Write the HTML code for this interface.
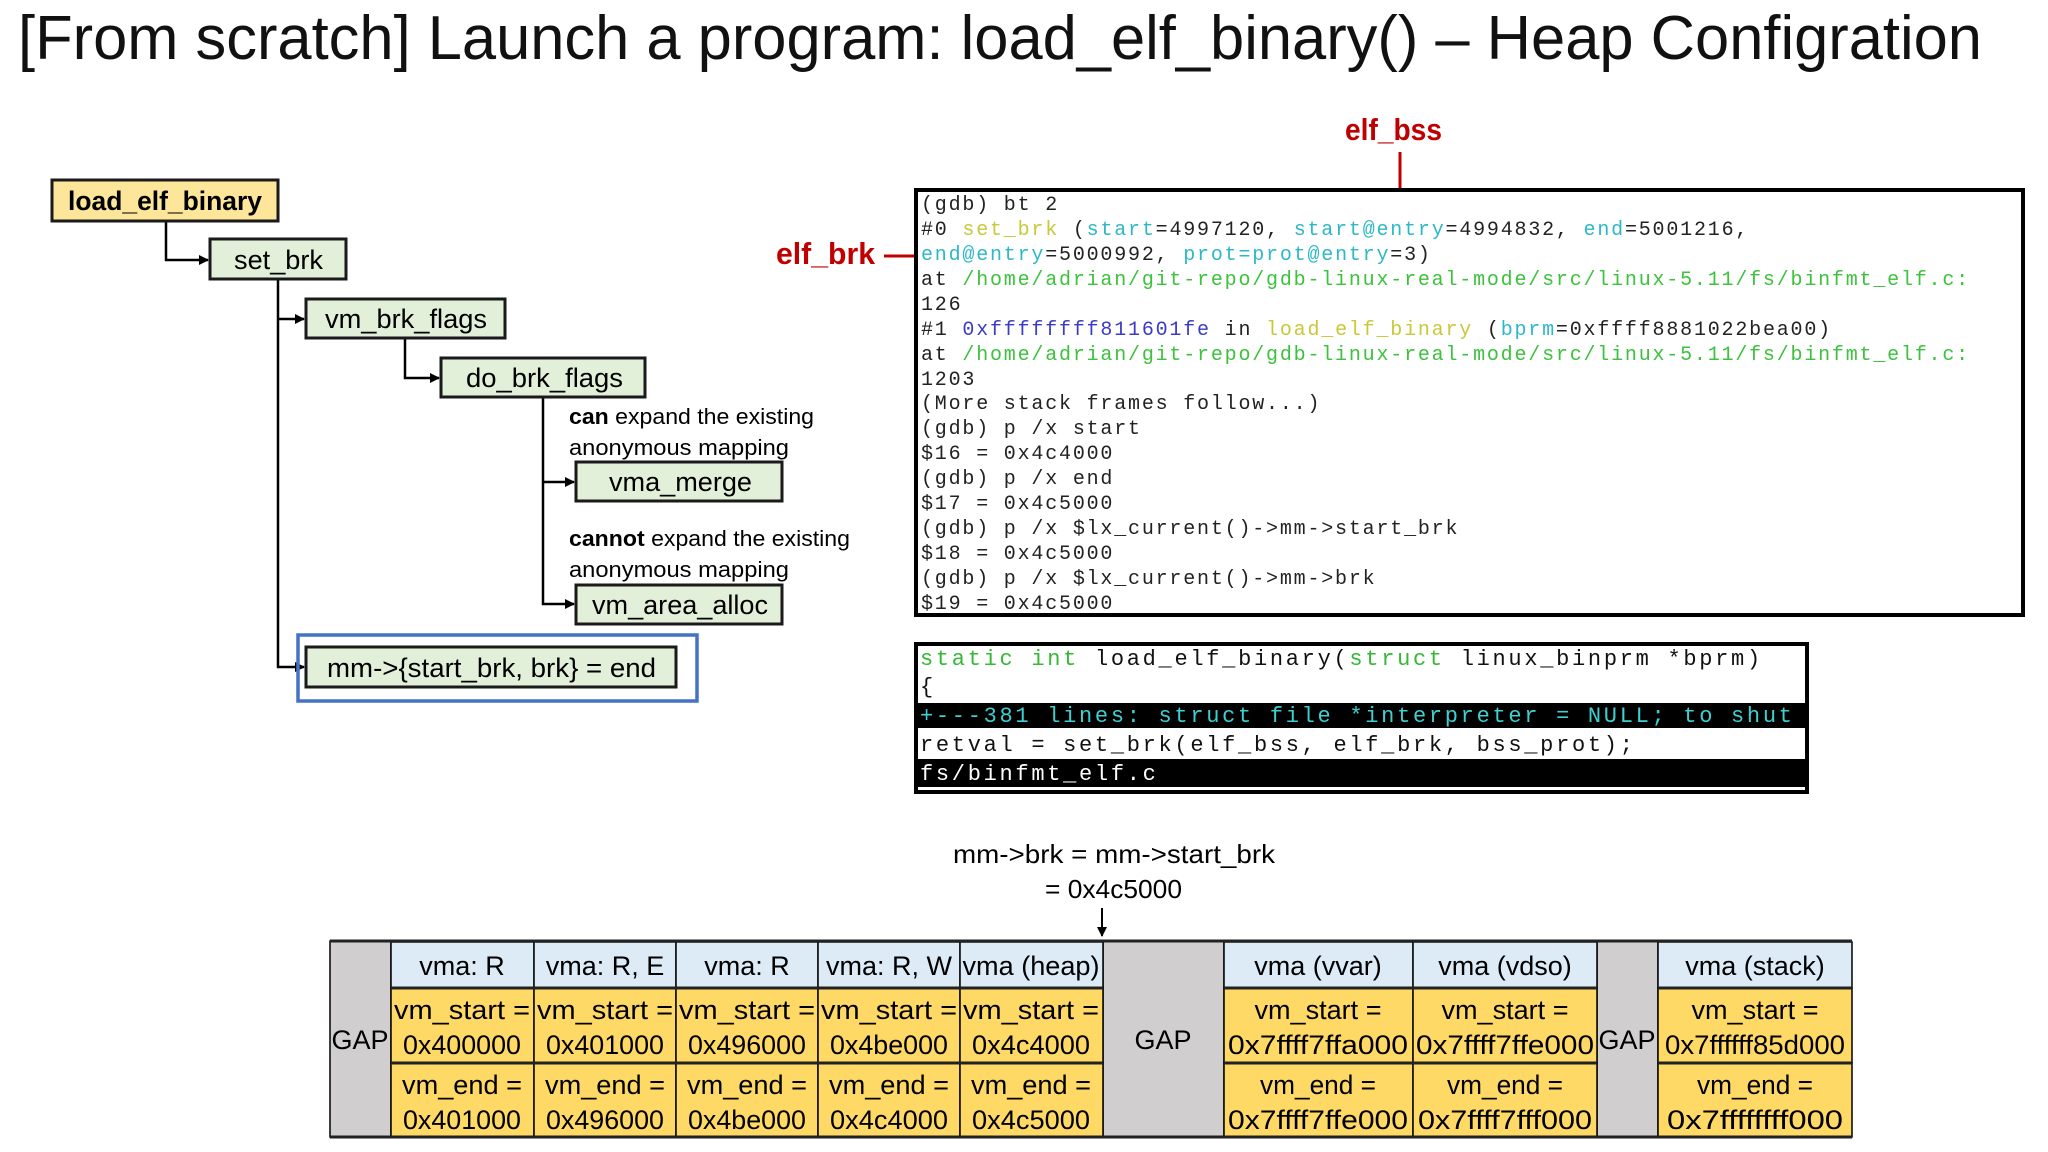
<!DOCTYPE html>
<html><head><meta charset="utf-8"><style>
html,body{margin:0;padding:0;background:#fff;}
svg{display:block;}
.t{font-family:"Liberation Sans",sans-serif;}
.m{font-family:"Liberation Mono",monospace;white-space:pre;}
</style></head><body>
<svg width="2048" height="1152" viewBox="0 0 2048 1152" xmlns="http://www.w3.org/2000/svg">
<defs>
<marker id="ab" markerWidth="10" markerHeight="10" refX="9" refY="5" orient="auto" markerUnits="userSpaceOnUse"><path d="M0,0 L10,5 L0,10 z" fill="#000"/></marker>
<marker id="ar" markerWidth="14" markerHeight="14" refX="13" refY="7" orient="auto" markerUnits="userSpaceOnUse"><path d="M0,0 L14,7 L0,14 z" fill="#c00000"/></marker>
<clipPath id="c1"><rect x="918" y="192" width="1103" height="421"/></clipPath>
<clipPath id="c2"><rect x="918" y="646" width="887" height="144"/></clipPath>
</defs>

<text class="t" x="18" y="59" font-size="62" fill="#111" textLength="1964" lengthAdjust="spacingAndGlyphs">[From scratch] Launch a program: load_elf_binary() – Heap Configration</text>

<!-- tree -->
<g stroke="#000" stroke-width="2.5" fill="none">
<path d="M166,221 V260 H208" marker-end="url(#ab)"/>
<path d="M278,279 V667 H304" marker-end="url(#ab)"/>
<path d="M278,319 H304" marker-end="url(#ab)"/>
<path d="M405,338 V378 H439" marker-end="url(#ab)"/>
<path d="M543,397 V604 H574" marker-end="url(#ab)"/>
<path d="M543,482 H574" marker-end="url(#ab)"/>
</g>
<g stroke="#1a1a1a" stroke-width="3">
<rect x="52" y="180" width="226" height="41" fill="#fde699"/>
<rect x="210" y="239" width="136" height="40" fill="#e2efd9"/>
<rect x="306" y="299" width="199" height="39" fill="#e2efd9"/>
<rect x="441" y="358" width="204" height="39" fill="#e2efd9"/>
<rect x="576" y="462" width="206" height="39" fill="#e2efd9"/>
<rect x="576" y="585" width="206" height="39" fill="#e2efd9"/>
<rect x="306" y="647" width="370" height="40" fill="#e2efd9"/>
</g>
<rect x="298" y="635" width="399" height="66" fill="none" stroke="#4472c4" stroke-width="3.5"/>
<g class="t" font-size="27" fill="#000">
<text x="68" y="210" font-weight="bold" textLength="194" lengthAdjust="spacingAndGlyphs">load_elf_binary</text>
<text x="234" y="269" textLength="89" lengthAdjust="spacingAndGlyphs">set_brk</text>
<text x="325" y="328" textLength="162" lengthAdjust="spacingAndGlyphs">vm_brk_flags</text>
<text x="466" y="387" textLength="157" lengthAdjust="spacingAndGlyphs">do_brk_flags</text>
<text x="609" y="491" textLength="143" lengthAdjust="spacingAndGlyphs">vma_merge</text>
<text x="592" y="614" textLength="176" lengthAdjust="spacingAndGlyphs">vm_area_alloc</text>
<text x="327" y="677" textLength="329" lengthAdjust="spacingAndGlyphs">mm-&gt;{start_brk, brk} = end</text>
</g>
<g class="t" font-size="22" fill="#000">
<text x="569" y="424" textLength="245" lengthAdjust="spacingAndGlyphs"><tspan font-weight="bold">can</tspan> expand the existing</text>
<text x="569" y="455" textLength="220" lengthAdjust="spacingAndGlyphs">anonymous mapping</text>
<text x="569" y="546" textLength="281" lengthAdjust="spacingAndGlyphs"><tspan font-weight="bold">cannot</tspan> expand the existing</text>
<text x="569" y="577" textLength="220" lengthAdjust="spacingAndGlyphs">anonymous mapping</text>
</g>

<!-- red labels -->
<g class="t" font-size="31" font-weight="bold" fill="#c00000">
<text x="1345" y="140" textLength="97" lengthAdjust="spacingAndGlyphs">elf_bss</text>
<text x="776" y="264" textLength="99" lengthAdjust="spacingAndGlyphs">elf_brk</text>
</g>
<path d="M1400,152 V214" stroke="#c00000" stroke-width="3" marker-end="url(#ar)"/>
<path d="M884,256 H962" stroke="#c00000" stroke-width="3" marker-end="url(#ar)"/>

<!-- terminal -->
<rect x="916" y="190" width="1107" height="425" fill="#fff" stroke="#000" stroke-width="4"/>
<g class="m" font-size="20" letter-spacing="1.8" fill="#222" clip-path="url(#c1)">
<text x="921" y="210">(gdb) bt 2</text>
<text x="921" y="235">#0  <tspan fill="#c8c83a">set_brk</tspan> (<tspan fill="#2cb8c8">start</tspan>=4997120, <tspan fill="#2cb8c8">start@entry</tspan>=4994832, <tspan fill="#2cb8c8">end</tspan>=5001216,</text>
<text x="921" y="260">    <tspan fill="#2cb8c8">end@entry</tspan>=5000992, <tspan fill="#2cb8c8">prot=prot@entry</tspan>=3)</text>
<text x="921" y="285">    at <tspan fill="#3cc23c">/home/adrian/git-repo/gdb-linux-real-mode/src/linux-5.11/fs/binfmt_elf.c:</tspan></text>
<text x="921" y="310">126</text>
<text x="921" y="335">#1  <tspan fill="#3b3bc4">0xffffffff811601fe</tspan> in <tspan fill="#c8c83a">load_elf_binary</tspan> (<tspan fill="#2cb8c8">bprm</tspan>=0xffff8881022bea00)</text>
<text x="921" y="360">    at <tspan fill="#3cc23c">/home/adrian/git-repo/gdb-linux-real-mode/src/linux-5.11/fs/binfmt_elf.c:</tspan></text>
<text x="921" y="385">1203</text>
<text x="921" y="409">(More stack frames follow...)</text>
<text x="921" y="434">(gdb) p /x start</text>
<text x="921" y="459">$16 = 0x4c4000</text>
<text x="921" y="484">(gdb) p /x end</text>
<text x="921" y="509">$17 = 0x4c5000</text>
<text x="921" y="534">(gdb) p /x $lx_current()-&gt;mm-&gt;start_brk</text>
<text x="921" y="559">$18 = 0x4c5000</text>
<text x="921" y="584">(gdb) p /x $lx_current()-&gt;mm-&gt;brk</text>
<text x="921" y="609">$19 = 0x4c5000</text>
</g>

<!-- code box -->
<rect x="916" y="644" width="891" height="148" fill="#fff" stroke="#000" stroke-width="4"/>
<rect x="918" y="703" width="887" height="25" fill="#000"/>
<rect x="918" y="759" width="887" height="28" fill="#000"/>
<g class="m" font-size="22" letter-spacing="2.7" fill="#111" clip-path="url(#c2)">
<text x="920" y="665"><tspan fill="#35b835">static</tspan> <tspan fill="#35b835">int</tspan> load_elf_binary(<tspan fill="#35b835">struct</tspan> linux_binprm *bprm)</text>
<text x="920" y="693">{</text>
<text x="920" y="722" fill="#3ed0d0">+---381 lines: struct file *interpreter = NULL; to shut</text>
<text x="920" y="751">        retval = set_brk(elf_bss, elf_brk, bss_prot);</text>
<text x="920" y="780" fill="#fff">fs/binfmt_elf.c</text>
</g>

<!-- caption -->
<g class="t" font-size="26" fill="#000">
<text x="953" y="863" textLength="322" lengthAdjust="spacingAndGlyphs">mm-&gt;brk = mm-&gt;start_brk</text>
<text x="1045" y="898" textLength="137" lengthAdjust="spacingAndGlyphs">= 0x4c5000</text>
</g>
<path d="M1102,908 V936" stroke="#000" stroke-width="2" marker-end="url(#ab)"/>

<!-- table -->
<g stroke="#000" stroke-width="1.5">
<rect x="330" y="941" width="61" height="196" fill="#d0cece"/>
<rect x="1103" y="941" width="121" height="196" fill="#d0cece"/>
<rect x="1597" y="941" width="61" height="196" fill="#d0cece"/>
<g fill="#ddebf7">
<rect x="391" y="942" width="143" height="46"/><rect x="534" y="942" width="142" height="46"/><rect x="676" y="942" width="142" height="46"/><rect x="818" y="942" width="142" height="46"/><rect x="960" y="942" width="143" height="46"/>
<rect x="1224" y="942" width="189" height="46"/><rect x="1413" y="942" width="184" height="46"/><rect x="1658" y="942" width="194" height="46"/>
</g>
<g fill="#ffd966">
<rect x="391" y="988" width="143" height="75"/><rect x="534" y="988" width="142" height="75"/><rect x="676" y="988" width="142" height="75"/><rect x="818" y="988" width="142" height="75"/><rect x="960" y="988" width="143" height="75"/>
<rect x="1224" y="988" width="189" height="75"/><rect x="1413" y="988" width="184" height="75"/><rect x="1658" y="988" width="194" height="75"/>
<rect x="391" y="1063" width="143" height="74"/><rect x="534" y="1063" width="142" height="74"/><rect x="676" y="1063" width="142" height="74"/><rect x="818" y="1063" width="142" height="74"/><rect x="960" y="1063" width="143" height="74"/>
<rect x="1224" y="1063" width="189" height="74"/><rect x="1413" y="1063" width="184" height="74"/><rect x="1658" y="1063" width="194" height="74"/>
</g>
</g>
<g stroke="#222" stroke-width="3">
<line x1="330" y1="941" x2="1852" y2="941"/><line x1="330" y1="1137" x2="1852" y2="1137"/>
<line x1="391" y1="988" x2="1103" y2="988"/><line x1="1224" y1="988" x2="1597" y2="988"/><line x1="1658" y1="988" x2="1852" y2="988"/>
<line x1="391" y1="1063" x2="1103" y2="1063"/><line x1="1224" y1="1063" x2="1597" y2="1063"/><line x1="1658" y1="1063" x2="1852" y2="1063"/>
</g>
<g class="t" font-size="27" fill="#000" text-anchor="middle">
<text x="360" y="1049">GAP</text><text x="1163" y="1049">GAP</text><text x="1627" y="1049">GAP</text>
<text x="462" y="975">vma: R</text><text x="605" y="975">vma: R, E</text><text x="747" y="975">vma: R</text><text x="889" y="975">vma: R, W</text><text x="1031" y="975" textLength="137" lengthAdjust="spacingAndGlyphs">vma (heap)</text>
<text x="1318" y="975">vma (vvar)</text><text x="1505" y="975">vma (vdso)</text><text x="1755" y="975">vma (stack)</text>
</g>
<g class="t" font-size="27" fill="#000" text-anchor="middle" lengthAdjust="spacingAndGlyphs">
<text x="462" y="1019" textLength="136" lengthAdjust="spacingAndGlyphs">vm_start =</text><text x="462" y="1054" textLength="118" lengthAdjust="spacingAndGlyphs">0x400000</text>
<text x="605" y="1019" textLength="136" lengthAdjust="spacingAndGlyphs">vm_start =</text><text x="605" y="1054" textLength="118" lengthAdjust="spacingAndGlyphs">0x401000</text>
<text x="747" y="1019" textLength="136" lengthAdjust="spacingAndGlyphs">vm_start =</text><text x="747" y="1054" textLength="118" lengthAdjust="spacingAndGlyphs">0x496000</text>
<text x="889" y="1019" textLength="136" lengthAdjust="spacingAndGlyphs">vm_start =</text><text x="889" y="1054" textLength="118" lengthAdjust="spacingAndGlyphs">0x4be000</text>
<text x="1031" y="1019" textLength="136" lengthAdjust="spacingAndGlyphs">vm_start =</text><text x="1031" y="1054" textLength="118" lengthAdjust="spacingAndGlyphs">0x4c4000</text>
<text x="1318" y="1019" textLength="127" lengthAdjust="spacingAndGlyphs">vm_start =</text><text x="1318" y="1054" textLength="180" lengthAdjust="spacingAndGlyphs">0x7ffff7ffa000</text>
<text x="1505" y="1019" textLength="127" lengthAdjust="spacingAndGlyphs">vm_start =</text><text x="1505" y="1054" textLength="178" lengthAdjust="spacingAndGlyphs">0x7ffff7ffe000</text>
<text x="1755" y="1019" textLength="127" lengthAdjust="spacingAndGlyphs">vm_start =</text><text x="1755" y="1054" textLength="180" lengthAdjust="spacingAndGlyphs">0x7ffffff85d000</text>
<text x="462" y="1094" textLength="120" lengthAdjust="spacingAndGlyphs">vm_end =</text><text x="462" y="1129" textLength="118" lengthAdjust="spacingAndGlyphs">0x401000</text>
<text x="605" y="1094" textLength="120" lengthAdjust="spacingAndGlyphs">vm_end =</text><text x="605" y="1129" textLength="118" lengthAdjust="spacingAndGlyphs">0x496000</text>
<text x="747" y="1094" textLength="120" lengthAdjust="spacingAndGlyphs">vm_end =</text><text x="747" y="1129" textLength="118" lengthAdjust="spacingAndGlyphs">0x4be000</text>
<text x="889" y="1094" textLength="120" lengthAdjust="spacingAndGlyphs">vm_end =</text><text x="889" y="1129" textLength="118" lengthAdjust="spacingAndGlyphs">0x4c4000</text>
<text x="1031" y="1094" textLength="120" lengthAdjust="spacingAndGlyphs">vm_end =</text><text x="1031" y="1129" textLength="118" lengthAdjust="spacingAndGlyphs">0x4c5000</text>
<text x="1318" y="1094" textLength="116" lengthAdjust="spacingAndGlyphs">vm_end =</text><text x="1318" y="1129" textLength="180" lengthAdjust="spacingAndGlyphs">0x7ffff7ffe000</text>
<text x="1505" y="1094" textLength="116" lengthAdjust="spacingAndGlyphs">vm_end =</text><text x="1505" y="1129" textLength="174" lengthAdjust="spacingAndGlyphs">0x7ffff7fff000</text>
<text x="1755" y="1094" textLength="116" lengthAdjust="spacingAndGlyphs">vm_end =</text><text x="1755" y="1129" textLength="176" lengthAdjust="spacingAndGlyphs">0x7ffffffff000</text>
</g>
</svg>
</body></html>
